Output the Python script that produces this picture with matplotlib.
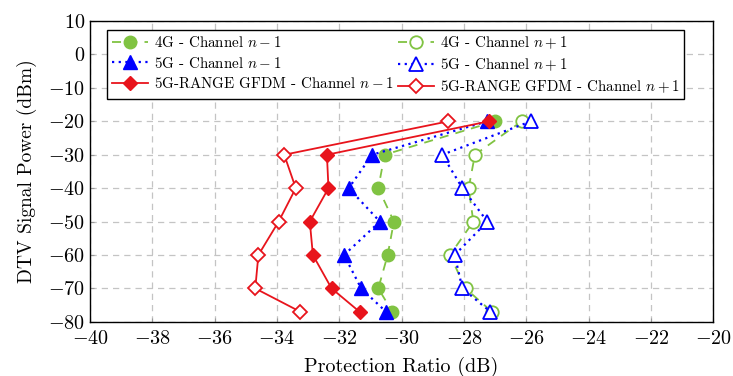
import numpy as np
import matplotlib
matplotlib.use("Agg")
import matplotlib.pyplot as plt

plt.rcParams["font.family"] = "serif"
plt.rcParams["font.serif"] = ["cmr10", "DejaVu Serif"]
plt.rcParams["mathtext.fontset"] = "cm"
plt.rcParams["axes.formatter.use_mathtext"] = True

# DTV signal power levels (dBm)
power = [-20, -30, -40, -50, -60, -70, -77]

# protection ratio (dB) per system / channel
g4_lower = [-27.0, -30.55, -30.75, -30.25, -30.45, -30.75, -30.3]
g4_upper = [-26.15, -27.65, -27.85, -27.7, -28.45, -27.95, -27.1]
g5_lower = [-27.25, -30.95, -31.7, -30.7, -31.85, -31.3, -30.5]
g5_upper = [-25.85, -28.7, -28.05, -27.25, -28.3, -28.05, -27.15]
gfdm_lower = [-27.2, -32.4, -32.35, -32.95, -32.85, -32.25, -31.35]
gfdm_upper = [-28.5, -33.77, -33.4, -33.95, -34.6, -34.7, -33.25]

green = "#80c342"
blue = "#0000ff"
red = "#e8141c"

fig = plt.figure(figsize=(7.33, 3.76), dpi=100)
ax = fig.add_axes([0.123, 0.144, 0.850, 0.800])

ax.plot(g4_lower, power, color=green, ls=(0, (5, 4)), lw=1.3, marker="o",
        ms=9, label=r"4G - Channel $n-1$")
ax.plot(g5_lower, power, color=blue, ls=(0, (1, 2)), lw=1.6, marker="^",
        ms=9.5, label=r"5G - Channel $n-1$")
ax.plot(gfdm_lower, power, color=red, ls="-", lw=1.3, marker="D",
        ms=7.5, label=r"5G-RANGE GFDM - Channel $n-1$")
ax.plot(g4_upper, power, color=green, ls=(0, (5, 4)), lw=1.3, marker="o",
        ms=9, mfc="white", mew=1.3, label=r"4G - Channel $n+1$")
ax.plot(g5_upper, power, color=blue, ls=(0, (1, 2)), lw=1.6, marker="^",
        ms=9.5, mfc="white", mew=1.3, label=r"5G - Channel $n+1$")
ax.plot(gfdm_upper, power, color=red, ls="-", lw=1.3, marker="D",
        ms=7.5, mfc="white", mew=1.3, label=r"5G-RANGE GFDM - Channel $n+1$")

ax.set_xlim(-40, -20)
ax.set_ylim(-80, 10)
ax.set_xticks(np.arange(-40, -19, 2))
ax.set_yticks(np.arange(-80, 11, 10))
ax.grid(True, color="#c4c4c4", ls=(0, (5, 4)), lw=0.9)
ax.tick_params(labelsize=14.5, direction="in", length=3, color="#999999")
ax.tick_params(axis="x", pad=6)
for sp in ax.spines.values():
    sp.set_linewidth(1.0)

ax.set_xlabel("Protection Ratio (dB)", fontsize=14.5, labelpad=6)
ax.set_ylabel("DTV Signal Power (dBm)", fontsize=14, labelpad=8)

leg = ax.legend(loc="upper center", bbox_to_anchor=(0.49, 0.995), ncol=2,
                fontsize=10.8, frameon=True, fancybox=False, edgecolor="black",
                framealpha=1, handlelength=2.4, borderpad=0.3,
                labelspacing=0.35, columnspacing=0.3, handletextpad=0.4)
leg.get_frame().set_linewidth(1.0)

fig.savefig("out.png", dpi=100)
